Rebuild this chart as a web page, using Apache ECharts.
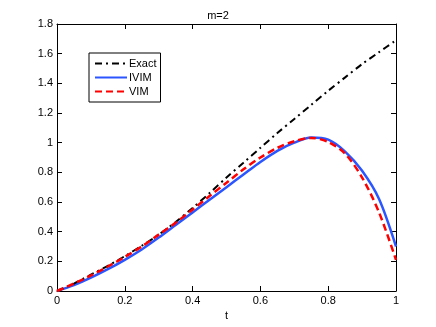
<!DOCTYPE html>
<html lang="en">
<head>
    <meta charset="UTF-8">
    <title>m=2</title>
    <script src="https://cdn.jsdelivr.net/npm/echarts@6/dist/echarts.min.js"></script>
    <style type="text/css">
        html, body { margin:0; padding:0; background:#fff; }
        #main{ width:436px; height:327px; }
    </style>
</head>
<body>
<div id="main"></div>
<script type="application/javascript">
    var tValues = [0, 0.05, 0.1, 0.15, 0.2, 0.25, 0.3, 0.35, 0.4, 0.45, 0.5,
                   0.55, 0.6, 0.65, 0.7, 0.75, 0.8, 0.85, 0.9, 0.95, 1];
    var exact = [0, 0.05, 0.11, 0.17, 0.235, 0.305, 0.38, 0.465, 0.56, 0.66, 0.765,
                 0.865, 0.965, 1.065, 1.16, 1.255, 1.35, 1.44, 1.53, 1.61, 1.69];
    var ivim = [0, 0.04, 0.09, 0.147, 0.21, 0.28, 0.36, 0.445, 0.53, 0.615, 0.7,
                0.785, 0.87, 0.945, 1.0, 1.035, 1.02, 0.94, 0.81, 0.62, 0.30];
    var vim = [0, 0.05, 0.105, 0.165, 0.23, 0.3, 0.38, 0.46, 0.55, 0.64, 0.73,
               0.82, 0.9, 0.965, 1.01, 1.032, 1.005, 0.925, 0.765, 0.53, 0.21];
    var xTicks = [0, 0.2, 0.4, 0.6, 0.8, 1];
    var yTicks = [0, 0.2, 0.4, 0.6, 0.8, 1, 1.2, 1.4, 1.6, 1.8];

    function pairs(ys) {
        return tValues.map(function (t, i) { return [t, ys[i]]; });
    }
    function tickLabel(v) { return String(+v.toFixed(1)); }

    var font = 'Liberation Sans, Arial, sans-serif';
    var axisLine = { show:true, onZero:false, lineStyle:{ color:'#000', width:1 } };
    var tick = { show:true, inside:true, length:5, lineStyle:{ color:'#000' } };

    var myChart = echarts.init(document.getElementById('main'));
    myChart.setOption({
        animation:false,
        title:{
            text:'m=2', left:'center', top:5,
            textStyle:{ fontFamily:font, fontSize:11, fontWeight:'normal', color:'#000' }
        },
        legend:{
            orient:'vertical', left:89, top:53,
            padding:[5, 4, 5, 5], itemGap:3, itemWidth:32, itemHeight:10,
            borderColor:'#000', borderWidth:1, backgroundColor:'#fff',
            itemStyle:{ opacity:0 },
            textStyle:{ fontFamily:font, fontSize:11, color:'#000', padding:[0, 0, 0, -3] },
            data:['Exact', 'IVIM', 'VIM']
        },
        grid:{ left:57, right:40, top:24, bottom:36 },
        xAxis:[{
            type:'value', min:0, max:1, interval:0.2,
            name:'t', nameLocation:'middle', nameGap:16,
            nameTextStyle:{ fontFamily:font, fontSize:11, color:'#000' },
            axisLine:axisLine, axisTick:tick, splitLine:{ show:false },
            axisLabel:{ fontFamily:font, fontSize:11, color:'#000', margin:4, formatter:tickLabel }
        }, {
            type:'value', min:0, max:1, interval:0.2, position:'top',
            axisLine:axisLine, axisTick:tick, splitLine:{ show:false }, axisLabel:{ show:false }
        }],
        yAxis:[{
            type:'value', min:0, max:1.8, interval:0.2,
            axisLine:axisLine, axisTick:tick, splitLine:{ show:false },
            axisLabel:{ fontFamily:font, fontSize:11, color:'#000', margin:4, formatter:tickLabel }
        }, {
            type:'value', min:0, max:1.8, interval:0.2, position:'right',
            axisLine:axisLine, axisTick:tick, splitLine:{ show:false }, axisLabel:{ show:false }
        }],
        series:[{
            name:'Exact', type:'line', symbol:'none', smooth:0.3,
            data:pairs(exact),
            itemStyle:{ color:'#000' },
            lineStyle:{ color:'#000', width:2, type:[7, 4, 2, 4] },
            z:3
        }, {
            name:'IVIM', type:'line', symbol:'none', smooth:0.3,
            data:pairs(ivim),
            itemStyle:{ color:'#2a55ff' },
            lineStyle:{ color:'#2a55ff', width:2.5 },
            z:2
        }, {
            name:'VIM', type:'line', symbol:'none', smooth:0.3,
            data:pairs(vim),
            itemStyle:{ color:'#ff0000' },
            lineStyle:{ color:'#ff0000', width:2.5, type:[7, 4] },
            z:4
        }]
    });
</script>
</body>
</html>
